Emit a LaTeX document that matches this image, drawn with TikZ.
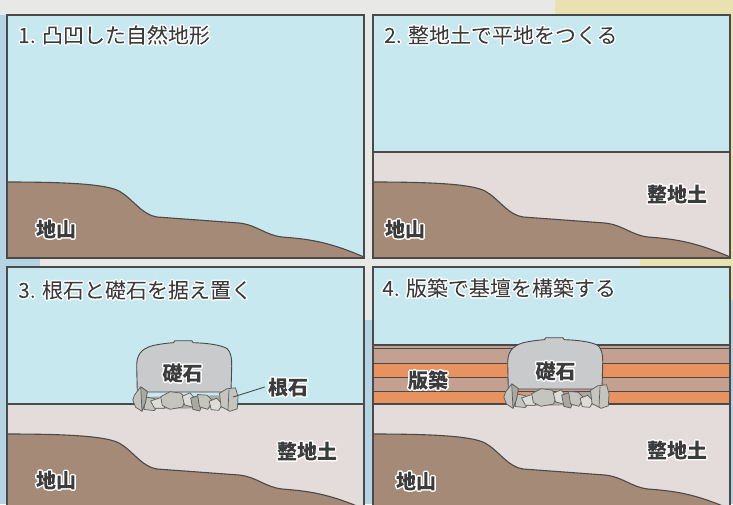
\documentclass[tikz,border=0pt]{standalone}
\usepackage{fontspec}
\newfontfamily\jp{Noto Sans CJK JP}

\definecolor{sky}{HTML}{C7E8EF}
\definecolor{earth}{HTML}{A68A78}
\definecolor{levelled}{HTML}{E3DCDA}
\definecolor{rammedA}{HTML}{C4A090}
\definecolor{rammedB}{HTML}{E89260}
\definecolor{stone}{HTML}{C9CACC}
\definecolor{pebA}{HTML}{C4C5BF}
\definecolor{pebB}{HTML}{A8A9A3}
\definecolor{pebC}{HTML}{DCDDD7}
\definecolor{ink}{HTML}{3C3C3C}
\definecolor{edge}{HTML}{4A4A4A}
\definecolor{bgblue}{HTML}{B4D4E4}
\definecolor{bggray}{HTML}{E8E8E7}
\definecolor{bgyellow}{HTML}{E9E2B0}

% text with a white outline: the glyphs are stroked in white and used as a
% clip, then filled with the ink colour inside that clip
\makeatletter
\newcommand\halo[1]{%
  \pgfsys@beginscope
  \pgfsys@invoke{1 1 1 RG 3 w 1 j 1 J 5 Tr}%
  #1%
  \pgfsys@invoke{0 Tr 0.235 0.235 0.235 rg -9000 -9000 18000 18000 re f}%
  \pgfsys@endscope}
\makeatother

\tikzset{
  frame/.style={draw=edge, line width=1.3pt},
  boundary/.style={draw=edge, line width=1.1pt},
  title/.style={anchor=west, inner sep=0pt, text=ink,
    font=\jp\fontsize{21}{24}\selectfont},
  lbl/.style={inner sep=0pt, text=ink,
    font=\jp\bfseries\fontsize{20}{24}\selectfont},
  pebble/.style={draw=edge!90, line width=0.7pt, line join=round},
  groundcurve/.style={insert path={(0,167) .. controls (70,167) and (100,170) .. (112,176)
    .. controls (125,183) and (135,200) .. (150,202)
    -- (232,208)
    .. controls (250,210) and (258,220) .. (275,222)
    .. controls (300,224) and (320,226) .. (357,242)}}
}

% one framed panel: sky, optional levelled fill, natural ground
\newcommand\panelbase[1]{%
  \fill[sky] (0,0) rectangle (357,243);
  \ifnum#1=1\relax\else
    \fill[levelled] (0,137) rectangle (357,243);
    \draw[boundary] (0,137) -- (357,137);
  \fi
  \fill[earth, groundcurve] -- (357,243) -- (0,243) -- cycle;
  \draw[boundary, groundcurve];
}

% foundation stone with its packing stones (coordinates of the third panel)
\newcommand\foundationstone{%
  \filldraw[fill=stone, draw=edge, line width=0.9pt, line join=round]
    (137.3,392) -- (136.7,366.7) .. controls (136.5,356) and (140,349) .. (153,345.5)
    .. controls (160,344) and (168,343) .. (173.3,342.7) -- (175,340.7) -- (191.7,340.7)
    -- (193.3,342.7) .. controls (205,343) and (220,344.5) .. (227,348.5)
    .. controls (231,352) and (231.8,358) .. (231.7,366.7) -- (231,392) -- cycle;
  \fill[pebB] (142,397) -- (232,395) -- (233,408) -- (142,409) -- cycle;
  \filldraw[pebble, fill=pebA] (145.5,397) -- (154,398.5) -- (159.5,405) -- (154,410.5) -- (144,409.5) -- cycle;
  \filldraw[pebble, fill=pebC] (150.5,401) -- (161.7,397.3) -- (167.5,402.7) -- (163.8,408.3) -- (154.5,408.3) -- cycle;
  \filldraw[pebble, fill=pebA] (160.7,396.7) -- (170,391.7) -- (180.5,393) -- (186,398.3) -- (182.5,407) -- (170,409.3) -- (162.3,405.5) -- cycle;
  \filldraw[pebble, fill=pebC] (182.3,396.2) -- (190,392.8) -- (196,400) -- (192.2,407) -- (184.5,404.8) -- cycle;
  \filldraw[pebble, fill=pebB] (190.7,398) -- (198.3,395.7) -- (202.5,401.7) -- (199.8,411) -- (192.8,409.3) -- cycle;
  \filldraw[pebble, fill=pebA] (197.5,394.5) -- (207,395.2) -- (212.7,400.7) -- (207.8,409.3) -- (199.5,406.8) -- cycle;
  \filldraw[pebble, fill=pebC] (209.2,401.2) -- (216.7,398.3) -- (222.5,404) -- (218.8,410.3) -- (211.2,409.7) -- cycle;
  \filldraw[pebble, fill=pebA] (219.5,393.3) -- (226.7,388.8) -- (235.5,387.8) -- (238,396.7) -- (237.3,408.8) -- (230,411.3) -- (221,406.5) -- cycle;
  \draw[pebble] (229,389.5) -- (228,410);
  \filldraw[pebble, fill=pebA] (134.5,395) -- (140.7,386.8) -- (147.3,391.5) -- (145.6,402) -- (142,411.3) -- (135.6,407.2) -- (132.8,400) -- cycle;
  \filldraw[pebble, fill=pebB] (140.7,386.8) -- (147.3,391.5) -- (145.6,402) -- (142,411.3) -- cycle;
}

\begin{document}
\begin{tikzpicture}[x=1pt, y=-1pt]
  \useasboundingbox (0,0) rectangle (733,504);

  % backdrop behind the panels
  \fill[bgblue] (0,0) rectangle (733,504);
  \fill[bggray] (0,0) rectangle (560,15);
  \fill[bggray] (40,256) rectangle (640,269);
  \fill[bggray] (360,0) rectangle (377,320);
  \fill[bgyellow] (555,0) rectangle (733,15);
  \fill[bgyellow] (640,256) rectangle (733,269);
  \fill[bgyellow] (728,0) rectangle (733,300);

  % panel 1: natural terrain
  \begin{scope}[shift={(7,15)}]
    \panelbase{1}
    \draw[frame] (0,0) rectangle (357,243);
  \end{scope}
  \node[title] (t1) at (18,35) {\halo{1. 凸凹した自然地形}};
  \node[lbl] (g1) at (56,229) {\halo{地山}};

  % panel 2: levelling fill
  \begin{scope}[shift={(373,15)}]
    \panelbase{2}
    \draw[frame] (0,0) rectangle (357,243);
  \end{scope}
  \node[title] (t2) at (384,35) {\halo{2. 整地土で平地をつくる}};
  \node[lbl] (g2) at (405,229) {\halo{地山}};
  \node[lbl] (f2) at (677,194) {\halo{整地土}};

  % panel 3: packing stones and foundation stone
  \begin{scope}[shift={(7,267)}]
    \panelbase{3}
    \draw[frame] (0,0) rectangle (357,243);
  \end{scope}
  \foundationstone
  \node[title] (t3) at (18,290) {\halo{3. 根石と礎石を据え置く}};
  \node[lbl] (g3) at (56,480) {\halo{地山}};
  \node[lbl] (f3) at (307,451) {\halo{整地土}};
  \node[lbl] (s3) at (182.5,373) {\halo{礎石}};
  \node[lbl] (n3) at (288,387) {\halo{根石}};
  \coordinate (n3tip) at (233,397);
  \draw[edge, line width=0.9pt] (n3tip) -- ([xshift=-3pt]n3.west);

  % panel 4: rammed-earth platform
  \begin{scope}[shift={(373,267)}]
    \panelbase{4}
    \fill[rammedA] (0,78) rectangle (357,137);
    \fill[rammedB] (0,96) rectangle (357,110);
    \fill[rammedB] (0,124.5) rectangle (357,137);
    \draw[boundary] (0,78) -- (357,78);
    \draw[edge, line width=0.8pt] (0,81.5) -- (357,81.5);
    \draw[edge, line width=0.8pt] (0,96) -- (357,96);
    \draw[edge, line width=0.8pt] (0,110) -- (357,110);
    \draw[edge, line width=0.8pt] (0,124.5) -- (357,124.5);
    \draw[boundary] (0,137) -- (357,137);
    \draw[frame] (0,0) rectangle (357,243);
  \end{scope}
  \begin{scope}[shift={(371,-3)}]
    \foundationstone
  \end{scope}
  \node[title] (t4) at (382,288) {\halo{4. 版築で基壇を構築する}};
  \node[lbl] (g4) at (416,481) {\halo{地山}};
  \node[lbl] (f4) at (677,450) {\halo{整地土}};
  \node[lbl] (s4) at (555.5,371) {\halo{礎石}};
  \node[lbl] (b4) at (428,380) {\halo{版築}};
\end{tikzpicture}
\end{document}
